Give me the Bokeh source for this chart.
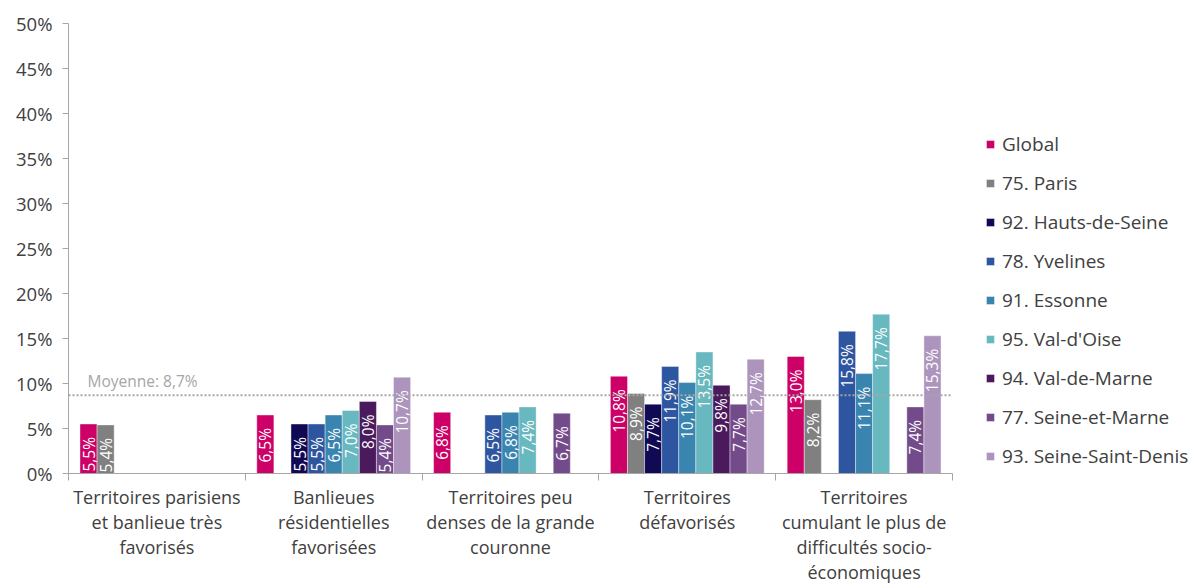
from math import pi
from bokeh.plotting import figure
from bokeh.models import (ColumnDataSource, Span, Label, Legend, LegendItem,
                          LinearAxis, FixedTicker, PrintfTickFormatter, Range1d)
from bokeh.core.properties import value
from bokeh.embed import file_html
from bokeh.resources import INLINE

# ---------------- data ----------------
categories = [
    "Territoires parisiens\net banlieue très\nfavorisés",
    "Banlieues\nrésidentielles\nfavorisées",
    "Territoires peu\ndenses de la grande\ncouronne",
    "Territoires\ndéfavorisés",
    "Territoires\ncumulant le plus de\ndifficultés socio-\néconomiques",
]
series_names = ["Global", "75. Paris", "92. Hauts-de-Seine", "78. Yvelines",
                "91. Essonne", "95. Val-d'Oise", "94. Val-de-Marne",
                "77. Seine-et-Marne", "93. Seine-Saint-Denis"]
global_ = [5.5, 6.5, 6.8, 10.8, 13.0]
paris = [5.4, None, None, 8.9, 8.2]
hauts_de_seine = [None, 5.5, None, 7.7, None]
yvelines = [None, 5.5, 6.5, 11.9, 15.8]
essonne = [None, 6.5, 6.8, 10.1, 11.1]
val_doise = [None, 7.0, 7.4, 13.5, 17.7]
val_de_marne = [None, 8.0, None, 9.8, None]
seine_et_marne = [None, 5.4, 6.7, 7.7, 7.4]
seine_saint_denis = [None, 10.7, None, 12.7, 15.3]
series_values = [global_, paris, hauts_de_seine, yvelines, essonne,
                 val_doise, val_de_marne, seine_et_marne, seine_saint_denis]
average = 8.7
y_ticks = [0, 5, 10, 15, 20, 25, 30, 35, 40, 45, 50]

colors = ["#cc0066", "#808080", "#100a55", "#2e55a0", "#3a84b0",
          "#67b8bf", "#4a1a5c", "#744b8a", "#ac94bd"]

FONT = "Open Sans"
TXT = "#404040"

p = figure(frame_width=884, frame_height=450, output_backend="svg",
           toolbar_location=None, x_range=Range1d(0, len(categories)),
           y_range=Range1d(0, 50), min_border_left=68, min_border_top=23,
           min_border_right=0, min_border_bottom=0, x_axis_type=None)
p.outline_line_color = None
p.xgrid.visible = False
p.ygrid.visible = False
p.background_fill_color = "white"
p.border_fill_color = "white"

group_w = 0.87
bar_w = group_w / len(series_names)

items = []
for i, (name, vals) in enumerate(zip(series_names, series_values)):
    xs, tops, labels = [], [], []
    for c, v in enumerate(vals):
        if v is None:
            continue
        xs.append(c + 0.5 + (i - (len(series_names) - 1) / 2) * bar_w)
        tops.append(v)
        labels.append(f"{v:.1f}".replace(".", ",") + "%")
    src = ColumnDataSource(dict(x=xs, top=tops, label=labels))
    r = p.vbar(x="x", top="top", width=bar_w, bottom=0, source=src,
               fill_color=colors[i], line_color="white", line_alpha=0.5,
               line_width=0.8)
    p.text(x="x", y="top", text="label", source=src, angle=pi / 2,
           text_align="right", text_baseline="middle", y_offset=13,
           text_color="white", text_font=value(FONT), text_font_size="15.5px")
    items.append(LegendItem(label=name, renderers=[r]))

# average line
p.add_layout(Span(location=average, dimension="width", line_color="#a6a6a6",
                  line_dash="2 2", line_width=2))
p.add_layout(Label(x=0, y=average, x_offset=19, y_offset=3,
                   text="Moyenne: " + f"{average:.1f}".replace(".", ",") + "%",
                   text_color="#a6a6a6", text_font=FONT, text_font_size="15.5px"))

# y axis
p.yaxis.ticker = FixedTicker(ticks=y_ticks)
p.yaxis.formatter = PrintfTickFormatter(format="%d%%")
p.yaxis.axis_line_color = "#a6a6a6"
p.yaxis.major_tick_line_color = "#a6a6a6"
p.yaxis.major_tick_out = 6
p.yaxis.major_tick_in = 0
p.yaxis.minor_tick_line_color = None
p.yaxis.major_label_text_font = FONT
p.yaxis.major_label_text_font_size = "18.5px"
p.yaxis.major_label_text_color = TXT
p.yaxis.major_label_standoff = 10

# x axis: category labels at centres, boundary ticks as minor ticks
centers = [c + 0.5 for c in range(len(categories))]
bounds = list(range(len(categories) + 1))
ax = LinearAxis(ticker=FixedTicker(ticks=centers, minor_ticks=bounds),
                major_label_overrides={c + 0.5: lab for c, lab in enumerate(categories)},
                axis_line_color="#a6a6a6", major_tick_line_color=None,
                minor_tick_line_color="#a6a6a6", minor_tick_out=7, minor_tick_in=0,
                major_tick_out=7, major_tick_in=0,
                major_label_standoff=4,
                major_label_text_font=FONT, major_label_text_font_size="18px",
                major_label_text_color=TXT,
                major_label_text_line_height=1.05)
p.add_layout(ax, "below")

legend = Legend(items=items, location=(33, 4), orientation="vertical",
                label_text_font=FONT, label_text_font_size="19px",
                label_text_color=TXT, glyph_width=10, glyph_height=10,
                label_height=22, spacing=13, label_standoff=7,
                border_line_color=None, background_fill_alpha=0,
                margin=0, padding=10)
p.add_layout(legend, "right")

open("out.html", "w").write(file_html(p, INLINE))
